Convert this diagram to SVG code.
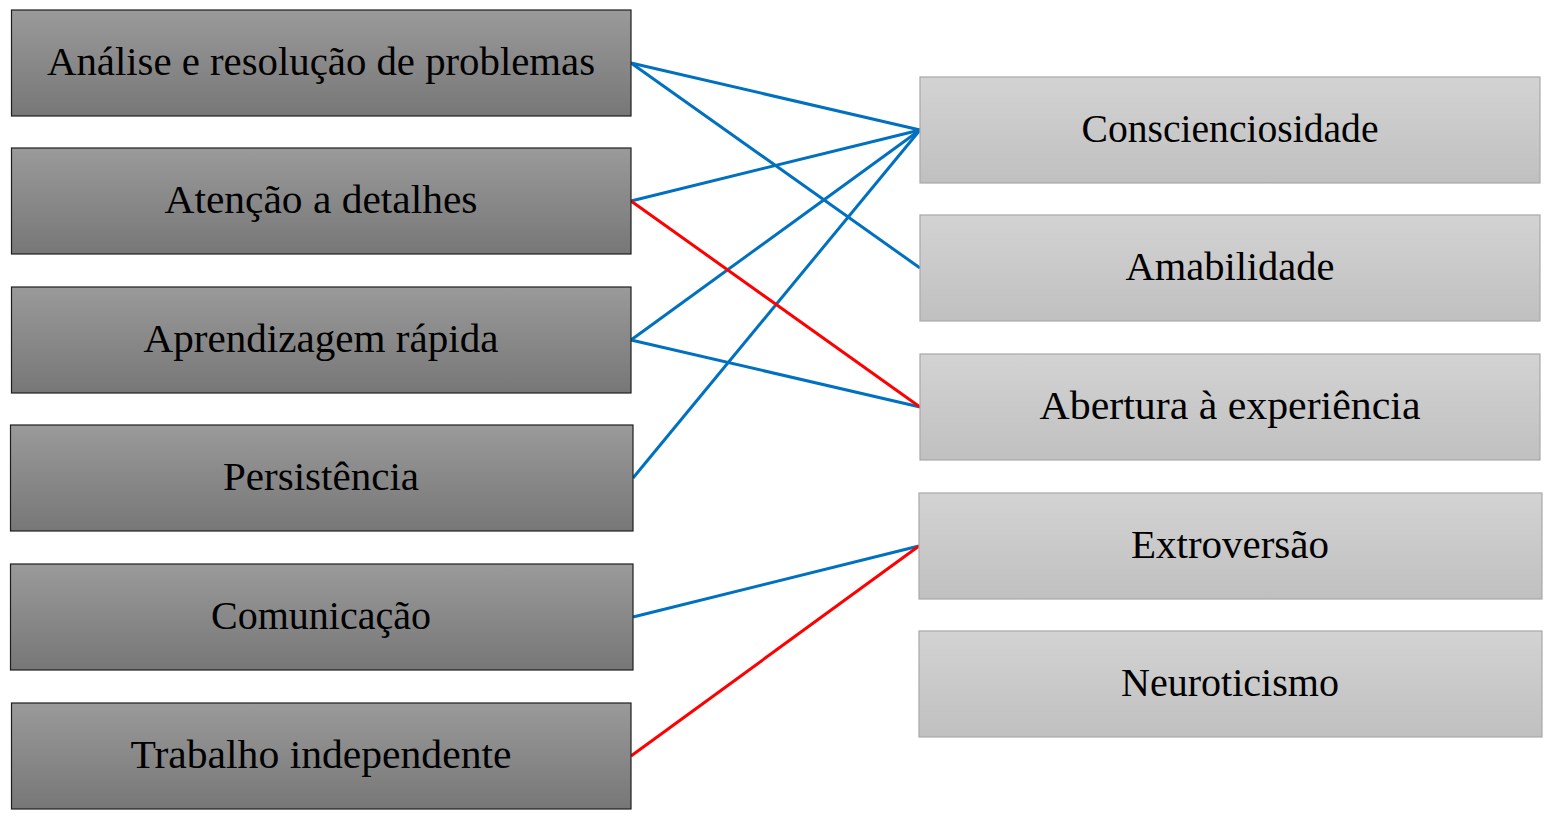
<svg xmlns="http://www.w3.org/2000/svg" width="1556" height="822" viewBox="0 0 1556 822">
<defs>
<linearGradient id="gl" x1="0" y1="0" x2="0" y2="1"><stop offset="0" stop-color="#9a9a9a"/><stop offset="1" stop-color="#777777"/></linearGradient>
<linearGradient id="gr" x1="0" y1="0" x2="0" y2="1"><stop offset="0" stop-color="#d3d3d3"/><stop offset="1" stop-color="#c0c0c0"/></linearGradient>
</defs>
<style>
.l{fill:url(#gl);stroke:#1e1e1e;stroke-width:1.2}
.r{fill:url(#gr);stroke:#a8a8a8;stroke-width:1.2}
text{font-family:"Liberation Serif","DejaVu Serif",serif;font-size:40px;fill:#000;text-anchor:middle}
.b{stroke:#0070c0;stroke-width:3;fill:none}
.red{stroke:#ff0000;stroke-width:3;fill:none}
</style>
<rect width="1556" height="822" fill="#fff"/>
<g id="connectors">
<line class="b" x1="631" y1="63" x2="920" y2="130"/>
<line class="b" x1="631" y1="63" x2="920" y2="268"/>
<line class="b" x1="631" y1="201" x2="920" y2="130"/>
<line class="b" x1="631" y1="340" x2="920" y2="130"/>
<line class="b" x1="631" y1="340" x2="920" y2="407"/>
<line class="b" x1="633" y1="478" x2="920" y2="130"/>
<line class="b" x1="633" y1="617" x2="919" y2="546"/>
<line class="red" x1="631" y1="201" x2="920" y2="407"/>
<line class="red" x1="631" y1="756" x2="919" y2="546"/>
</g>
<g id="n1"><rect class="l" x="11.5" y="10" width="619.5" height="106"/><text x="321" y="75" textLength="548" lengthAdjust="spacingAndGlyphs">Análise e resolução de problemas</text></g>
<g id="n2"><rect class="l" x="11.5" y="148" width="619.5" height="106"/><text x="321" y="213" textLength="313" lengthAdjust="spacingAndGlyphs">Atenção a detalhes</text></g>
<g id="n3"><rect class="l" x="11.5" y="287" width="619.5" height="106"/><text x="321" y="352" textLength="355" lengthAdjust="spacingAndGlyphs">Aprendizagem rápida</text></g>
<g id="n4"><rect class="l" x="10.5" y="425" width="622.5" height="106"/><text x="321" y="490" textLength="196" lengthAdjust="spacingAndGlyphs">Persistência</text></g>
<g id="n5"><rect class="l" x="10.5" y="564" width="622.5" height="106"/><text x="321" y="629" textLength="220" lengthAdjust="spacingAndGlyphs">Comunicação</text></g>
<g id="n6"><rect class="l" x="11.5" y="703" width="619.5" height="106"/><text x="321" y="768" textLength="381" lengthAdjust="spacingAndGlyphs">Trabalho independente</text></g>
<g id="m1"><rect class="r" x="920" y="77" width="620" height="106"/><text x="1230" y="142" textLength="297" lengthAdjust="spacingAndGlyphs">Conscienciosidade</text></g>
<g id="m2"><rect class="r" x="920" y="215" width="620" height="106"/><text x="1230" y="280" textLength="209" lengthAdjust="spacingAndGlyphs">Amabilidade</text></g>
<g id="m3"><rect class="r" x="920" y="354" width="620" height="106"/><text x="1230" y="419" textLength="381" lengthAdjust="spacingAndGlyphs">Abertura à experiência</text></g>
<g id="m4"><rect class="r" x="919" y="493" width="623" height="106"/><text x="1230" y="558" textLength="198" lengthAdjust="spacingAndGlyphs">Extroversão</text></g>
<g id="m5"><rect class="r" x="919" y="631" width="623" height="106"/><text x="1230" y="696" textLength="218" lengthAdjust="spacingAndGlyphs">Neuroticismo</text></g>
</svg>
